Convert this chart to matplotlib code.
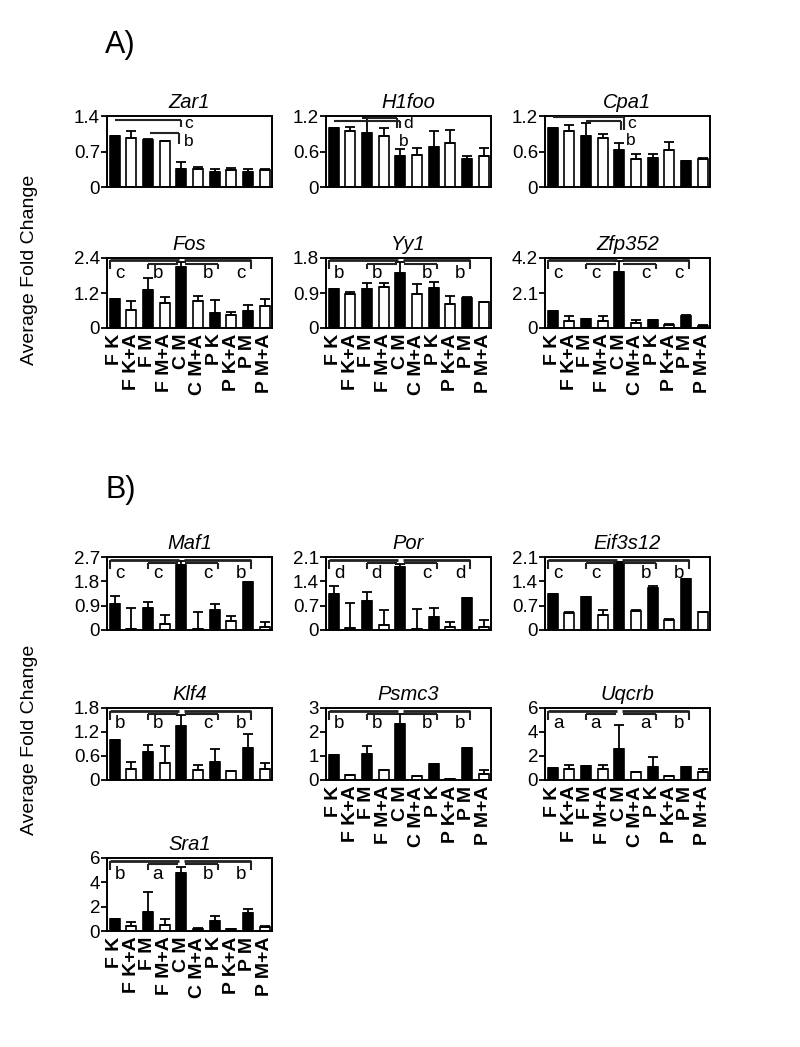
import matplotlib
matplotlib.use("Agg")
import matplotlib.pyplot as plt
import numpy as np

plt.rcParams['font.family'] = ['Liberation Sans', 'DejaVu Sans']

conditions = ["F K", "F K+A", "F M", "F M+A", "C M", "C M+A", "P K", "P K+A", "P M", "P M+A"]
bar_colors = ["black", "white"] * 5

# ---- Panel A ----
zar1_mean = [1.0, 0.97, 0.93, 0.90, 0.35, 0.35, 0.30, 0.33, 0.30, 0.33]
zar1_err = [0, 0.13, 0.02, 0.0, 0.14, 0.05, 0.05, 0.05, 0.05, 0.03]
h1foo_mean = [1.0, 0.95, 0.92, 0.87, 0.52, 0.54, 0.68, 0.75, 0.47, 0.52]
h1foo_err = [0, 0.07, 0.25, 0.12, 0.12, 0.12, 0.26, 0.22, 0.06, 0.14]
cpa1_mean = [1.0, 0.94, 0.87, 0.82, 0.62, 0.48, 0.49, 0.63, 0.44, 0.47]
cpa1_err = [0, 0.10, 0.21, 0.08, 0.13, 0.07, 0.06, 0.13, 0.0, 0.02]
fos_mean = [1.0, 0.63, 1.3, 0.85, 2.1, 0.92, 0.53, 0.44, 0.6, 0.75]
fos_err = [0, 0.3, 0.4, 0.22, 0.18, 0.18, 0.42, 0.1, 0.2, 0.23]
yy1_mean = [1.0, 0.88, 1.0, 1.06, 1.42, 0.88, 1.03, 0.62, 0.77, 0.66]
yy1_err = [0, 0.05, 0.15, 0.09, 0.27, 0.26, 0.16, 0.2, 0.02, 0.02]
zfp352_mean = [1.0, 0.4, 0.55, 0.45, 3.35, 0.28, 0.5, 0.2, 0.75, 0.15]
zfp352_err = [0, 0.35, 0.0, 0.3, 0.65, 0.2, 0.0, 0.02, 0.05, 0.05]

# ---- Panel B ----
maf1_mean = [0.97, 0.05, 0.83, 0.22, 2.4, 0.05, 0.74, 0.32, 1.78, 0.1]
maf1_err = [0.28, 0.75, 0.22, 0.33, 0.15, 0.6, 0.23, 0.2, 0.0, 0.21]
por_mean = [1.04, 0.05, 0.83, 0.15, 1.8, 0.03, 0.38, 0.08, 0.92, 0.08]
por_err = [0.22, 0.72, 0.25, 0.42, 0.1, 0.57, 0.25, 0.15, 0.0, 0.2]
eif3s12_mean = [1.03, 0.5, 0.94, 0.42, 1.95, 0.55, 1.2, 0.29, 1.48, 0.52]
eif3s12_err = [0, 0.03, 0, 0.16, 0, 0.02, 0.07, 0.04, 0, 0]
klf4_mean = [1.0, 0.27, 0.69, 0.42, 1.35, 0.26, 0.45, 0.23, 0.8, 0.27]
klf4_err = [0, 0.17, 0.19, 0.42, 0.28, 0.11, 0.32, 0.0, 0.36, 0.15]
psmc3_mean = [1.03, 0.22, 1.1, 0.42, 2.35, 0.18, 0.68, 0.05, 1.33, 0.25]
psmc3_err = [0, 0, 0.3, 0, 0.4, 0, 0, 0, 0, 0.18]
uqcrb_mean = [1.0, 0.88, 1.2, 0.88, 2.6, 0.65, 1.12, 0.3, 1.08, 0.65]
uqcrb_err = [0, 0.38, 0, 0.38, 2.0, 0, 0.82, 0, 0, 0.23]
sra1_mean = [1.0, 0.4, 1.6, 0.5, 4.8, 0.2, 0.8, 0.15, 1.45, 0.3]
sra1_err = [0, 0.35, 1.6, 0.45, 0.5, 0.05, 0.45, 0.02, 0.35, 0.1]

yticks_zar1 = ["0", "0.7", "1.4"]
yticks_h1foo = ["0", "0.6", "1.2"]
yticks_cpa1 = ["0", "0.6", "1.2"]
yticks_fos = ["0", "1.2", "2.4"]
yticks_yy1 = ["0", "0.9", "1.8"]
yticks_zfp352 = ["0", "2.1", "4.2"]
yticks_maf1 = ["0", "0.9", "1.8", "2.7"]
yticks_por = ["0", "0.7", "1.4", "2.1"]
yticks_eif3s12 = ["0", "0.7", "1.4", "2.1"]
yticks_klf4 = ["0", "0.6", "1.2", "1.8"]
yticks_psmc3 = ["0", "1", "2", "3"]
yticks_uqcrb = ["0", "2", "4", "6"]
yticks_sra1 = ["0", "2", "4", "6"]

letters_fos = ["c", "b", "b", "c"]
letters_yy1 = ["b", "b", "b", "b"]
letters_zfp352 = ["c", "c", "c", "c"]
letters_maf1 = ["c", "c", "c", "b"]
letters_por = ["d", "d", "c", "d"]
letters_eif3s12 = ["c", "c", "b", "b"]
letters_klf4 = ["b", "b", "c", "b"]
letters_psmc3 = ["b", "b", "b", "b"]
letters_uqcrb = ["a", "a", "a", "b"]
letters_sra1 = ["b", "a", "b", "b"]

W, H = 800, 1047
fig = plt.figure(figsize=(W / 100, H / 100), dpi=100)

col_left = [107, 326, 545]
ax_w = 165


def make_ax(col, ytop, ybot):
    return fig.add_axes([col_left[col] / W, 1 - ybot / H, ax_w / W, (ybot - ytop) / H])


LW = 1.4
LETTER_FS = 13.5


def draw(ax, title, mean, err, yt_labels, show_x):
    x = np.arange(len(conditions))
    ax.bar(x, mean, width=0.6, color=bar_colors, edgecolor="black", linewidth=1.2, zorder=2)
    lower = np.zeros(len(err))
    ax.errorbar(x, mean, yerr=[lower, err], fmt="none", ecolor="black",
                elinewidth=1.3, capsize=3.8, capthick=1.3, zorder=3)
    yt = [float(v) for v in yt_labels]
    ax.set_ylim(0, yt[-1])
    ax.set_xlim(-0.45, 9.45)
    ax.set_yticks(yt)
    ax.set_yticklabels(yt_labels, fontsize=13.5)
    ax.tick_params(axis="y", direction="out", length=4, width=1.3, pad=1)
    ax.tick_params(axis="x", length=0, pad=4)
    for s in ax.spines.values():
        s.set_linewidth(LW)
    ax.set_title(title, fontsize=14.5, fontstyle="italic", pad=6)
    ax.set_xticks(x)
    if show_x:
        ax.set_xticklabels(conditions, rotation=90, fontsize=14, va="top", ha="center",
                           fontweight="bold")
    else:
        ax.set_xticklabels([])


def seg(ax, xs, ys, lw=1.5):
    ax.plot(xs, ys, color="#222222", lw=lw, clip_on=False, zorder=4, solid_capstyle="butt")


def cm_brackets(ax, ymax, letters):
    y1 = 0.965 * ymax
    y2 = 0.92 * ymax
    yb = 0.84 * ymax
    seg(ax, [-0.25, 3.85], [y1, y1], 2.0)
    seg(ax, [4.15, 8.2], [y1, y1], 2.0)
    seg(ax, [-0.25, -0.25], [y1, yb])
    seg(ax, [2.0, 3.8], [y2, y2])
    seg(ax, [2.0, 2.0], [y2, yb])
    seg(ax, [4.2, 6.2], [y2, y2])
    seg(ax, [6.2, 6.2], [y2, yb])
    seg(ax, [8.2, 8.2], [y1, yb])
    for lx, lt in zip([0.35, 2.6, 5.6, 7.6], letters):
        ax.text(lx, 0.78 * ymax, lt, fontsize=LETTER_FS, ha="center", va="center", zorder=5)


# Panel A row 1
ax = make_ax(0, 116, 187)
draw(ax, "Zar1", zar1_mean, zar1_err, yticks_zar1, False)
seg(ax, [0, 4.0], [1.32, 1.32]); seg(ax, [4.0, 4.0], [1.32, 1.18])
ax.text(4.45, 1.25, "c", fontsize=12.5, ha="center", va="center")
seg(ax, [2.1, 3.85], [1.07, 1.07]); seg(ax, [3.85, 3.85], [1.07, 0.84])
ax.text(4.45, 0.9, "b", fontsize=12.5, ha="center", va="center")

ax = make_ax(1, 116, 187)
draw(ax, "H1foo", h1foo_mean, h1foo_err, yticks_h1foo, False)
seg(ax, [0, 4.0], [1.12, 1.12]); seg(ax, [4.0, 4.0], [1.12, 0.99])
ax.text(4.5, 1.07, "d", fontsize=12.5, ha="center", va="center")
seg(ax, [2.0, 3.8], [1.16, 1.16]); seg(ax, [3.8, 3.8], [1.16, 1.0])
ax.text(4.2, 0.77, "b", fontsize=12.5, ha="center", va="center")

ax = make_ax(2, 116, 187)
draw(ax, "Cpa1", cpa1_mean, cpa1_err, yticks_cpa1, False)
seg(ax, [0, 4.3], [1.18, 1.18]); seg(ax, [4.3, 4.3], [1.18, 0.97])
ax.text(4.75, 1.07, "c", fontsize=12.5, ha="center", va="center")
seg(ax, [2.0, 4.1], [1.11, 1.11]); seg(ax, [4.1, 4.1], [1.11, 0.97])
ax.text(4.7, 0.79, "b", fontsize=12.5, ha="center", va="center")

# Panel A row 2
ax = make_ax(0, 258, 328)
draw(ax, "Fos", fos_mean, fos_err, yticks_fos, True)
cm_brackets(ax, 2.4, letters_fos)
ax = make_ax(1, 258, 328)
draw(ax, "Yy1", yy1_mean, yy1_err, yticks_yy1, True)
cm_brackets(ax, 1.8, letters_yy1)
ax = make_ax(2, 258, 328)
draw(ax, "Zfp352", zfp352_mean, zfp352_err, yticks_zfp352, True)
cm_brackets(ax, 4.2, letters_zfp352)

# Panel B row 1
ax = make_ax(0, 557, 630)
draw(ax, "Maf1", maf1_mean, maf1_err, yticks_maf1, False)
cm_brackets(ax, 2.7, letters_maf1)
ax = make_ax(1, 557, 630)
draw(ax, "Por", por_mean, por_err, yticks_por, False)
cm_brackets(ax, 2.1, letters_por)
ax = make_ax(2, 557, 630)
draw(ax, "Eif3s12", eif3s12_mean, eif3s12_err, yticks_eif3s12, False)
cm_brackets(ax, 2.1, letters_eif3s12)

# Panel B row 2
ax = make_ax(0, 708, 780)
draw(ax, "Klf4", klf4_mean, klf4_err, yticks_klf4, False)
cm_brackets(ax, 1.8, letters_klf4)
ax = make_ax(1, 708, 780)
draw(ax, "Psmc3", psmc3_mean, psmc3_err, yticks_psmc3, True)
cm_brackets(ax, 3.0, letters_psmc3)
ax = make_ax(2, 708, 780)
draw(ax, "Uqcrb", uqcrb_mean, uqcrb_err, yticks_uqcrb, True)
cm_brackets(ax, 6.0, letters_uqcrb)

# Panel B row 3
ax = make_ax(0, 858, 931)
draw(ax, "Sra1", sra1_mean, sra1_err, yticks_sra1, True)
cm_brackets(ax, 6.0, letters_sra1)

fig.text(105 / W, 1 - 45 / H, "A)", fontsize=22, ha="left", va="center")
fig.text(105 / W, 1 - 490 / H, "B)", fontsize=22, ha="left", va="center")
fig.text(30 / W, 1 - 270 / H, "Average Fold Change", rotation=90, fontsize=14,
         ha="center", va="center")
fig.text(30 / W, 1 - 740 / H, "Average Fold Change", rotation=90, fontsize=14,
         ha="center", va="center")

fig.savefig("out.png", dpi=100, facecolor="white")
